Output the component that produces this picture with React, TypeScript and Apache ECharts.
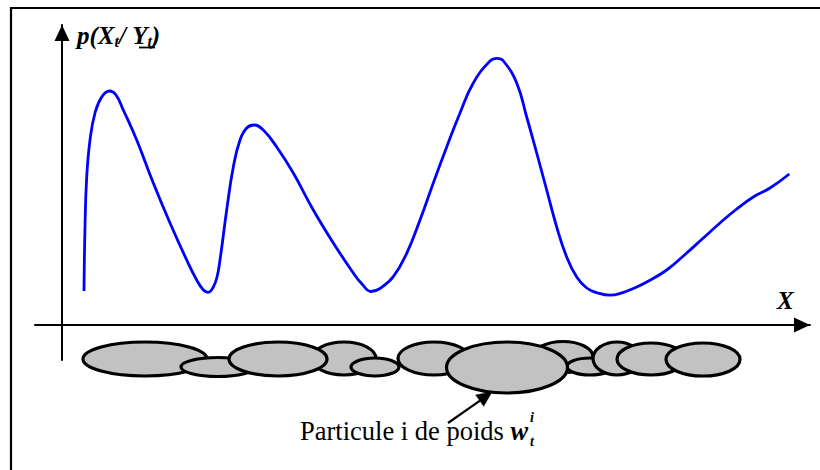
import React, { useEffect, useRef } from "react";
import * as echarts from "echarts";

// Density curve p(X_t / Y_t) : x position (axis units) and density value
const densityX = [
  2.2, 2.3, 2.47, 2.8, 3.3, 3.97, 4.75, 5.4, 6.13, 7.47, 9.13, 10.8, 12.47, 13.47, 14.1,
  14.6, 15.13, 15.5, 15.8, 16.47, 17.13, 17.8, 18.47, 19.2, 20.13, 21.47, 23.13, 25.13,
  27.13, 29.13, 30.0, 30.9, 31.8, 33.13, 34.47, 35.8, 37.13, 38.47, 39.8, 41.13, 42.8,
  43.5, 44.1, 45.47, 46.47, 47.47, 48.47, 49.47, 50.47, 51.47, 52.47, 53.6, 54.8, 56.0,
  57.47, 58.47, 60.47, 62.47, 64.13, 65.8, 67.47, 69.13, 70.8, 72.73,
];
const densityY = [
  0.34, 0.98, 1.48, 1.85, 2.12, 2.28, 2.34, 2.3, 2.15, 1.85, 1.42, 1.02, 0.65, 0.45, 0.355,
  0.327, 0.38, 0.48, 0.65, 1.15, 1.58, 1.85, 1.97, 2.0, 1.95, 1.78, 1.52, 1.15,
  0.82, 0.52, 0.41, 0.335, 0.365, 0.483, 0.717, 1.05, 1.42, 1.78, 2.12, 2.42, 2.64,
  2.667, 2.645, 2.42, 2.08, 1.72, 1.35, 0.98, 0.68, 0.48, 0.37, 0.32, 0.298, 0.322,
  0.38, 0.43, 0.55, 0.72, 0.87, 1.02, 1.16, 1.28, 1.37, 1.51,
];

// Particles (drawn in this order): centre x, centre y, half-width, half-height (axis units)
const particleCX = [8.3, 15.6, 28.2, 21.6, 31.3, 37.2, 50.1, 52.8, 55.5, 58.9, 64.1, 44.5];
const particleCY = [-0.34, -0.42, -0.335, -0.34, -0.42, -0.335, -0.32, -0.415, -0.335, -0.34, -0.345, -0.425];
const particleRX = [6.2, 3.7, 3.2, 4.9, 2.4, 3.6, 3.0, 2.3, 2.4, 3.4, 3.7, 6.05];
const particleRY = [0.17, 0.095, 0.165, 0.17, 0.09, 0.165, 0.155, 0.085, 0.165, 0.16, 0.165, 0.255];

const X_MIN = -2.7;
const X_MAX = 74.8;
const Y_MIN = -0.35;
const Y_MAX = 3.0;

const SERIF = '"Liberation Serif", "Times New Roman", serif';

export default function App() {
  const ref = useRef<HTMLDivElement>(null);

  useEffect(() => {
    document.body.style.margin = "0";
    const chart = echarts.init(ref.current as HTMLDivElement, null, { renderer: "svg" });

    const axisLine = {
      show: true,
      onZero: true,
      symbol: ["none", "triangle"],
      symbolSize: [15, 16],
      symbolOffset: [0, -8],
      lineStyle: { color: "#000", width: 2 },
    };

    const option = {
      animation: false,
      backgroundColor: "#fff",
      grid: { left: 35, right: 10, top: 25, bottom: 110 },
      xAxis: {
        type: "value",
        min: X_MIN,
        max: X_MAX,
        axisLine,
        axisTick: { show: false },
        axisLabel: { show: false },
        splitLine: { show: false },
      },
      yAxis: {
        type: "value",
        min: Y_MIN,
        max: Y_MAX,
        axisLine,
        axisTick: { show: false },
        axisLabel: { show: false },
        splitLine: { show: false },
      },
      series: [
        {
          type: "custom",
          clip: false,
          z: 3,
          data: particleCX.map((x, i) => [x, particleCY[i], particleRX[i], particleRY[i]]),
          renderItem: (_params: any, api: any) => {
            const c = api.coord([api.value(0), api.value(1)]);
            const s = api.size([api.value(2), api.value(3)]);
            return {
              type: "ellipse",
              shape: { cx: c[0], cy: c[1], rx: s[0], ry: s[1] },
              style: { fill: "#c2c2c2", stroke: "#000", lineWidth: 3.2 },
            };
          },
        },
        {
          type: "line",
          data: densityX.map((x, i) => [x, densityY[i]]),
          showSymbol: false,
          smooth: 0.45,
          lineStyle: { color: "#0000ff", width: 2.8 },
          z: 4,
        },
      ],
      graphic: [
        {
          type: "rect",
          shape: { x: 11, y: 8, width: 900, height: 600 },
          style: { fill: "none", stroke: "#000", lineWidth: 2.2 },
          silent: true,
        },
        {
          type: "text",
          x: 77,
          y: 21,
          style: {
            text: "{m|p(X}{s|t}{m|/ }{m|Y}{s|t}{m|)}",
            rich: {
              m: { fontFamily: SERIF, fontWeight: "bold", fontStyle: "italic", fontSize: 25, lineHeight: 28, fill: "#000" },
              s: { fontFamily: SERIF, fontWeight: "bold", fontStyle: "italic", fontSize: 16, lineHeight: 20, verticalAlign: "bottom", fill: "#000" },
            },
          },
        },
        {
          type: "line",
          shape: { x1: 139, y1: 47.5, x2: 155, y2: 47.5 },
          style: { stroke: "#000", lineWidth: 1.8 },
        },
        {
          type: "text",
          x: 777,
          y: 300,
          style: {
            text: "X",
            fontFamily: SERIF,
            fontWeight: "bold",
            fontStyle: "italic",
            fontSize: 25,
            fill: "#000",
            verticalAlign: "middle",
            textVerticalAlign: "middle",
          },
        },
        {
          type: "text",
          x: 300,
          y: 431,
          style: {
            text: "{r|Particule i de poids }{w|w}",
            verticalAlign: "middle",
            textVerticalAlign: "middle",
            rich: {
              r: { fontFamily: SERIF, fontSize: 26.5, fill: "#000" },
              w: { fontFamily: SERIF, fontWeight: "bold", fontStyle: "italic", fontSize: 26.5, fill: "#000" },
            },
          },
        },
        {
          type: "text",
          x: 530,
          y: 417,
          style: {
            text: "i",
            fontFamily: SERIF,
            fontWeight: "bold",
            fontStyle: "italic",
            fontSize: 14,
            fill: "#000",
            verticalAlign: "middle",
            textVerticalAlign: "middle",
          },
        },
        {
          type: "text",
          x: 530,
          y: 441,
          style: {
            text: "t",
            fontFamily: SERIF,
            fontWeight: "bold",
            fontStyle: "italic",
            fontSize: 14,
            fill: "#000",
            verticalAlign: "middle",
            textVerticalAlign: "middle",
          },
        },
        {
          type: "line",
          shape: { x1: 448, y1: 423, x2: 480, y2: 400.6 },
          style: { stroke: "#000", lineWidth: 2.2 },
        },
        {
          type: "polygon",
          shape: { points: [[492, 392], [483.7, 406.3], [475.7, 394.9]] },
          style: { fill: "#000", stroke: "#000", lineWidth: 0.5 },
        },
      ],
    };

    chart.setOption(option as any);
    return () => {
      chart.dispose();
    };
  }, []);

  return <div ref={ref} style={{ width: 820, height: 470 }} />;
}
